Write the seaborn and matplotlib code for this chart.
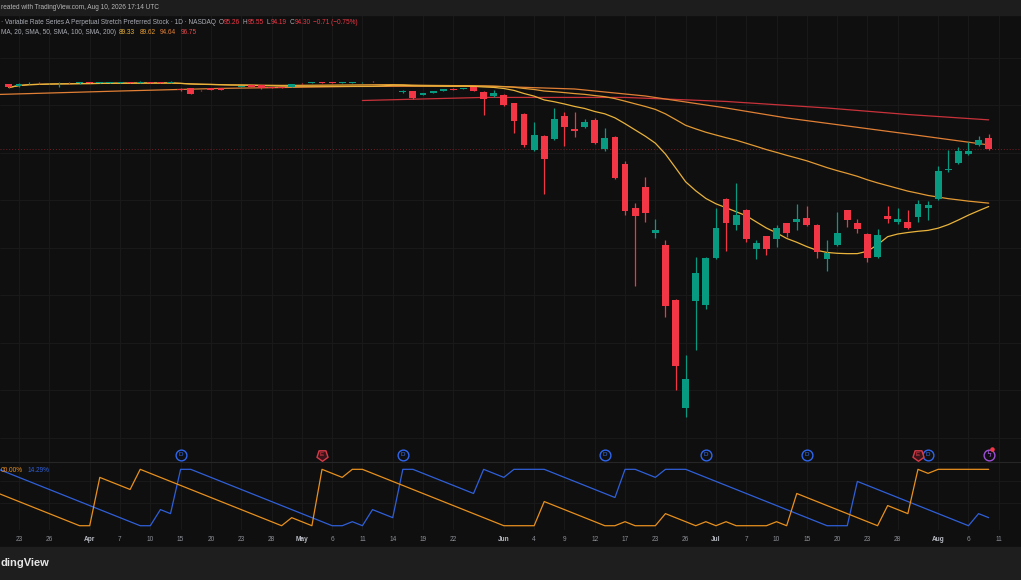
import numpy as np
import pandas as pd
import matplotlib
matplotlib.use("Agg")
import matplotlib.pyplot as plt
import seaborn as sns
from matplotlib.markers import MarkerStyle
from matplotlib.transforms import Affine2D
from matplotlib.patches import Rectangle

# --- data --------------------------------------------------------------
holidays = ["2026-04-03", "2026-05-25", "2026-06-19", "2026-07-03"]

# daily bars from 2026-03-20 to 2026-08-10
opens = [
    99.73, 99.60, 99.82, 99.86, 99.82, 99.84, 99.88, 99.84, 99.90, 99.85,
    99.88, 99.88, 99.93, 99.88, 99.95, 99.90, 99.85,
    99.35, 99.44, 99.28, 99.44, 99.42, 99.36, 99.49, 99.69, 99.68, 99.49, 99.46, 99.50,
    99.86, 99.86, 99.90, 99.88, 99.85, 99.87, 99.90, 99.97, 99.92, 99.92,
    99.12, 99.18, 98.85, 99.02, 99.21, 99.38, 99.33, 99.50, 99.12, 98.74,
    98.87, 98.15, 97.27, 94.22, 95.39, 95.14, 97.08, 96.01, 96.18, 96.72,
    94.27, 95.29, 93.04, 89.31, 91.13, 87.20, 86.22, 81.58, 72.46, 81.52,
    81.16, 85.15, 90.11, 87.86, 89.16, 85.85, 86.95, 86.72, 88.04, 88.15,
    88.51, 87.88, 85.06, 86.22, 89.14, 88.04, 87.14, 85.21, 88.66, 88.15,
    88.15, 88.60, 89.31, 90.09, 92.53, 93.12, 93.85, 94.61, 95.26,
]
highs = [
    99.77, 99.85, 99.90, 99.90, 99.88, 99.95, 99.90, 99.93, 99.92, 99.96,
    99.95, 99.95, 99.95, 100.05, 99.97, 99.92, 100.02,
    99.45, 99.46, 99.30, 99.46, 99.44, 99.38, 99.62, 99.71, 99.70, 99.51, 99.48, 99.77,
    99.88, 99.91, 99.95, 99.90, 99.90, 99.97, 99.98, 99.99, 99.97, 99.97,
    99.28, 99.20, 99.02, 99.20, 99.37, 99.40, 99.46, 99.52, 99.15, 99.27,
    98.95, 98.20, 97.30, 96.55, 95.45, 97.73, 97.42, 97.42, 96.80, 96.94,
    96.04, 95.35, 93.29, 89.78, 91.94, 88.38, 86.64, 81.70, 76.95, 85.18,
    85.23, 89.33, 90.20, 91.46, 89.25, 86.64, 87.00, 87.90, 88.10, 89.67,
    89.50, 87.95, 86.64, 88.97, 89.20, 88.41, 87.20, 87.54, 89.50, 89.31,
    89.16, 90.01, 89.95, 92.89, 94.22, 94.44, 94.86, 95.39, 95.55,
]
lows = [
    99.44, 99.55, 99.80, 99.80, 99.80, 99.52, 99.80, 99.80, 99.82, 99.82,
    99.85, 99.85, 99.85, 99.85, 99.85, 99.82, 99.82,
    99.20, 98.90, 99.22, 99.25, 99.28, 99.32, 99.47, 99.48, 99.38, 99.43, 99.41, 99.48,
    99.81, 99.84, 99.85, 99.83, 99.83, 99.85, 99.88, 99.91, 99.90, 99.90,
    99.00, 98.50, 98.82, 99.00, 99.19, 99.28, 99.31, 99.16, 97.16, 98.70,
    97.95, 95.62, 94.49, 94.15, 90.51, 95.05, 94.58, 95.34, 96.10, 94.75,
    94.16, 91.75, 88.74, 82.76, 88.18, 86.78, 80.18, 74.01, 71.71, 77.37,
    80.83, 85.05, 85.71, 87.44, 86.49, 85.01, 85.37, 86.02, 86.91, 87.48,
    87.85, 85.10, 84.05, 86.15, 87.71, 87.25, 84.76, 85.15, 88.04, 87.98,
    87.55, 88.18, 88.32, 90.01, 92.34, 93.05, 93.79, 94.55, 94.19,
]
closes = [
    99.48, 99.80, 99.86, 99.82, 99.86, 99.86, 99.84, 99.90, 99.85, 99.92,
    99.92, 99.93, 99.88, 99.95, 99.88, 99.86, 99.92,
    99.27, 98.93, 99.25, 99.27, 99.30, 99.34, 99.60, 99.50, 99.40, 99.45, 99.43, 99.75,
    99.83, 99.89, 99.87, 99.85, 99.88, 99.91, 99.93, 99.93, 99.95, 99.95,
    99.16, 98.57, 98.99, 99.18, 99.35, 99.30, 99.44, 99.18, 98.51, 98.99,
    98.01, 96.68, 94.61, 95.48, 93.43, 96.85, 96.18, 95.79, 96.55, 94.83,
    95.23, 91.83, 89.10, 88.68, 88.89, 87.50, 81.08, 76.03, 74.93, 83.88,
    85.10, 87.65, 88.04, 88.70, 86.70, 86.38, 85.88, 87.67, 87.20, 88.38,
    87.90, 85.60, 85.52, 87.25, 88.30, 87.56, 85.10, 87.06, 88.41, 88.38,
    87.62, 89.69, 89.58, 92.45, 92.64, 94.16, 94.11, 95.03, 94.30,
]

# long moving averages (their history starts before the visible window)
sma100_dates = ["2026-03-19", "2026-04-07", "2026-04-21", "2026-05-08", "2026-05-28",
                "2026-06-10", "2026-06-22", "2026-07-02", "2026-07-13", "2026-07-29",
                "2026-08-10"]
sma100_vals = [98.89, 99.18, 99.40, 99.56, 99.60, 99.35, 98.76, 97.75, 96.91, 95.56, 94.64]
sma200_dates = ["2026-05-11", "2026-05-28", "2026-06-17", "2026-07-02", "2026-07-17",
                "2026-07-29", "2026-08-10"]
sma200_vals = [98.38, 98.64, 98.64, 98.30, 97.75, 97.20, 96.75]

# Aroon (14) turning points, in percent
aroon_up_dates = ["2026-03-19", "2026-03-31", "2026-04-01", "2026-04-02", "2026-04-08",
                  "2026-04-09", "2026-04-29", "2026-04-30", "2026-05-04", "2026-05-05",
                  "2026-05-07", "2026-05-08", "2026-05-11", "2026-06-01", "2026-06-04",
                  "2026-06-05", "2026-06-15", "2026-06-16", "2026-06-17", "2026-06-18",
                  "2026-06-23", "2026-06-24", "2026-06-29", "2026-06-30", "2026-07-01",
                  "2026-07-02", "2026-07-06", "2026-07-09", "2026-07-10", "2026-07-13",
                  "2026-07-14", "2026-07-24", "2026-07-27", "2026-07-29", "2026-07-30",
                  "2026-07-31", "2026-08-03", "2026-08-10"]
aroon_up_vals = [57.14, 0, 0, 85.71, 64.29, 100, 0, 14.29, 0, 100,
                 85.71, 100, 100, 0, 0, 42.86, 0, 0, 7.14, 0,
                 0, 21.43, 0, 7.14, 0, 7.14, 0, 0, 7.14, 0,
                 57.14, 0, 35.71, 21.43, 100, 92.86, 100, 100]
aroon_dn_dates = ["2026-03-19", "2026-04-09", "2026-04-10", "2026-04-13", "2026-04-14",
                  "2026-04-15", "2026-04-16", "2026-05-06", "2026-05-07", "2026-05-08",
                  "2026-05-11", "2026-05-12", "2026-05-14", "2026-05-15", "2026-05-18",
                  "2026-05-27", "2026-05-28", "2026-06-01", "2026-06-02", "2026-06-05",
                  "2026-06-16", "2026-06-17", "2026-06-18", "2026-06-23", "2026-06-24",
                  "2026-06-26", "2026-07-17", "2026-07-21", "2026-07-22", "2026-08-06",
                  "2026-08-07", "2026-08-10"]
aroon_dn_vals = [100, 0, 0, 28.57, 21.43, 100, 100, 0, 0, 7.14,
                 0, 28.57, 14.29, 100, 100, 57.14, 100, 85.71, 100, 100,
                 50, 100, 100, 85.71, 100, 100, 0, 0, 78.57, 0,
                 21.43, 14.29]

dividend_dates = ["2026-04-15", "2026-05-15", "2026-06-15", "2026-06-30", "2026-07-15", "2026-07-31"]
earnings_dates = ["2026-05-05", "2026-07-30"]
news_date = "2026-08-10"

tick_dates = ["2026-03-23", "2026-03-26", "2026-04-01", "2026-04-07", "2026-04-10",
              "2026-04-15", "2026-04-20", "2026-04-23", "2026-04-28", "2026-05-01",
              "2026-05-06", "2026-05-11", "2026-05-14", "2026-05-19", "2026-05-22",
              "2026-06-01", "2026-06-04", "2026-06-09", "2026-06-12", "2026-06-17",
              "2026-06-23", "2026-06-26", "2026-07-01", "2026-07-07", "2026-07-10",
              "2026-07-15", "2026-07-20", "2026-07-23", "2026-07-28", "2026-08-03",
              "2026-08-06", "2026-08-11"]
tick_labels = ["23", "26", "Apr", "7", "10", "15", "20", "23", "28", "May",
               "6", "11", "14", "19", "22", "Jun", "4", "9", "12", "17",
               "23", "26", "Jul", "7", "10", "15", "20", "23", "28", "Aug",
               "6", "11"]

# --- style ---------------------------------------------------------------
BG = "#0f0f0f"
GRID = "#1b1b1b"
RED = "#f23645"
GREEN = "#089981"
TXT = "#a8abb3"
C20, C50, C100, C200 = "#e9b33c", "#e39a34", "#e07f35", "#c9323a"
ORANGE, BLUE = "#e8901e", "#2f5fd8"

sns.set_theme(style="dark", rc={"axes.facecolor": BG, "figure.facecolor": BG})
plt.rcParams["font.family"] = ["Liberation Sans", "DejaVu Sans"]

W, H = 1021, 580
FS = 4.7

# trading sessions -> bar slots
sessions = pd.bdate_range("2026-03-19", "2026-08-14")
sessions = sessions[~sessions.isin(pd.to_datetime(holidays))]
slot = pd.Series(np.arange(len(sessions)), index=sessions)


def slots(dates):
    return slot[pd.to_datetime(dates)].values


bar_dates = sessions[(sessions >= "2026-03-20") & (sessions <= "2026-08-10")]
df = pd.DataFrame({"open": opens, "high": highs, "low": lows, "close": closes},
                  index=bar_dates)
df["x"] = slots(bar_dates)
df["sma20"] = df["close"].rolling(20, min_periods=1).mean()
df["sma50"] = df["close"].rolling(50, min_periods=1).mean()

fig = plt.figure(figsize=(W / 100, H / 100), dpi=100)
ax = fig.add_axes([0, 118 / H, 1, 447 / H])
ax2 = fig.add_axes([0, 50 / H, 1, 68 / H])

# header / footer bands
fig.patches.append(Rectangle((0, 1 - 15 / H), 1, 15 / H, transform=fig.transFigure,
                             color="#1d1d1d", zorder=0))
fig.patches.append(Rectangle((0, 0), 1, 33 / H, transform=fig.transFigure,
                             color="#1e1e1e", zorder=0))

# --- candles ---------------------------------------------------------------
up = df["close"] >= df["open"]
cols = np.where(up, GREEN, RED)
ax.vlines(df["x"], df["low"], df["high"], colors=cols, linewidth=0.9, zorder=3)
body = (df["close"] - df["open"]).abs().clip(lower=0.05)
ax.bar(df["x"], body, bottom=df[["open", "close"]].min(axis=1), width=0.68,
       color=cols, linewidth=0, zorder=4)

# moving averages
sns.lineplot(x=slots(sma200_dates), y=sma200_vals, ax=ax, color=C200, linewidth=0.9, zorder=2)
sns.lineplot(x=slots(sma100_dates), y=sma100_vals, ax=ax, color=C100, linewidth=0.9, zorder=2)
sns.lineplot(x=df["x"].values, y=df["sma50"].values, ax=ax, color=C50, linewidth=0.9, zorder=2)
sns.lineplot(x=df["x"].values, y=df["sma20"].values, ax=ax, color=C20, linewidth=0.9, zorder=2)

ax.axhline(df["close"].iloc[-1], color=RED, linewidth=0.7, linestyle=(0, (1, 2)),
           alpha=0.45, zorder=1)

# event markers along the bottom of the price pane
ev = ax.get_xaxis_transform()
ax.scatter(slots(dividend_dates), [0.0157] * len(dividend_dates), s=60, marker="o",
           facecolor=BG, edgecolor="#2f66ee", linewidth=1.0, transform=ev, clip_on=False, zorder=6)
for x in slots(dividend_dates):
    ax.text(x, 0.0157, "D", transform=ev, color="#3a72f5", fontsize=4.5,
            ha="center", va="center", zorder=7)
shield = MarkerStyle("p", transform=Affine2D().rotate_deg(180))
ax.scatter(slots(earnings_dates), [0.0157] * len(earnings_dates), s=70, marker=shield,
           facecolor="#3b1419", edgecolor="#d83a48", linewidth=1.0, transform=ev,
           clip_on=False, zorder=6)
for x in slots(earnings_dates):
    ax.text(x, 0.0157, "E", transform=ev, color="#e8404e", fontsize=4.5,
            ha="center", va="center", zorder=7)
nx = slots([news_date])[0]
ax.scatter([nx], [0.0157], s=60, marker="o", facecolor=BG, edgecolor="#9b4fd6",
           linewidth=1.0, transform=ev, clip_on=False, zorder=6)
ax.text(nx, 0.0157, "ϟ", transform=ev, color="#a85be0", fontsize=5.5,
        ha="center", va="center", zorder=7, family=["DejaVu Sans"])
ax.scatter([nx + 0.35], [0.03], s=5, color=RED, transform=ev, clip_on=False, zorder=8)

# --- Aroon pane ---------------------------------------------------------------
sns.lineplot(x=slots(aroon_dn_dates), y=aroon_dn_vals, ax=ax2, color=BLUE, linewidth=0.9)
sns.lineplot(x=slots(aroon_up_dates), y=aroon_up_vals, ax=ax2, color=ORANGE, linewidth=0.9)

# --- axes cosmetics ------------------------------------------------------------
tx = slots(tick_dates)
for a in (ax, ax2):
    a.set_xlim(0.12, 101.2)
    a.set_xticks(tx)
    a.set(xlabel="", ylabel="")
    a.grid(True, color=GRID, linewidth=0.6)
    a.tick_params(left=False, labelleft=False, bottom=False, length=0)
    for s in a.spines.values():
        s.set_visible(False)

ax.set_ylim(67.94, 105.58)
ax.set_yticks(np.arange(70, 103, 4))
ax.tick_params(labelbottom=False)

ax2.set_ylim(-7.6, 113)
ax2.set_yticks([40, 80])
ax2.spines["top"].set_visible(True)
ax2.spines["top"].set_color("#262626")
ax2.spines["top"].set_linewidth(0.8)
ax2.set_xticklabels(tick_labels)
ax2.tick_params(axis="x", labelsize=FS, labelcolor="#8e9199", pad=4)
for lab in ax2.get_xticklabels():
    if lab.get_text().isalpha():
        lab.set_fontweight("bold")
        lab.set_color("#b9bcc4")

# --- texts (the screenshot is cropped: only the visible part of each is kept) ---
renderer = fig.canvas.get_renderer()


def row(y_px, x_px, pieces, size=FS):
    for text, color, gap in pieces:
        t = fig.text(x_px / W, 1 - y_px / H, text, color=color, fontsize=size,
                     ha="left", va="center")
        x_px = t.get_window_extent(renderer).x1 + gap


row(7.5, 0.5, [("reated with TradingView.com, Aug 10, 2026 17:14 UTC", "#b6b6b6", 0)])
row(22, 0.5, [
    ("· Variable Rate Series A Perpetual Stretch Preferred Stock · 1D · NASDAQ", TXT, 3),
    ("O", TXT, 0.3), ("95.26", RED, 3),
    ("H", TXT, 0.3), ("95.55", RED, 3),
    ("L", TXT, 0.3), ("94.19", RED, 3),
    ("C", TXT, 0.3), ("94.30", RED, 2),
    ("−0.71 (−0.75%)", RED, 0),
])
row(33, 0.5, [
    ("MA, 20, SMA, 50, SMA, 100, SMA, 200)", TXT, 3.5),
    ("89.33", C20, 4.5), ("89.62", C50, 4.5), ("94.64", C100, 4.5), ("96.75", "#e5484d", 0),
])
row(470.5, 0.5, [("00.00%", ORANGE, 4.5), ("14.29%", BLUE, 0)])

fig.text(0.5 / W, 1 - 563 / H, "dingView", color="#e6e6e6", fontsize=8,
         fontweight="bold", ha="left", va="center")

fig.savefig("out.png", dpi=100, facecolor=BG)
